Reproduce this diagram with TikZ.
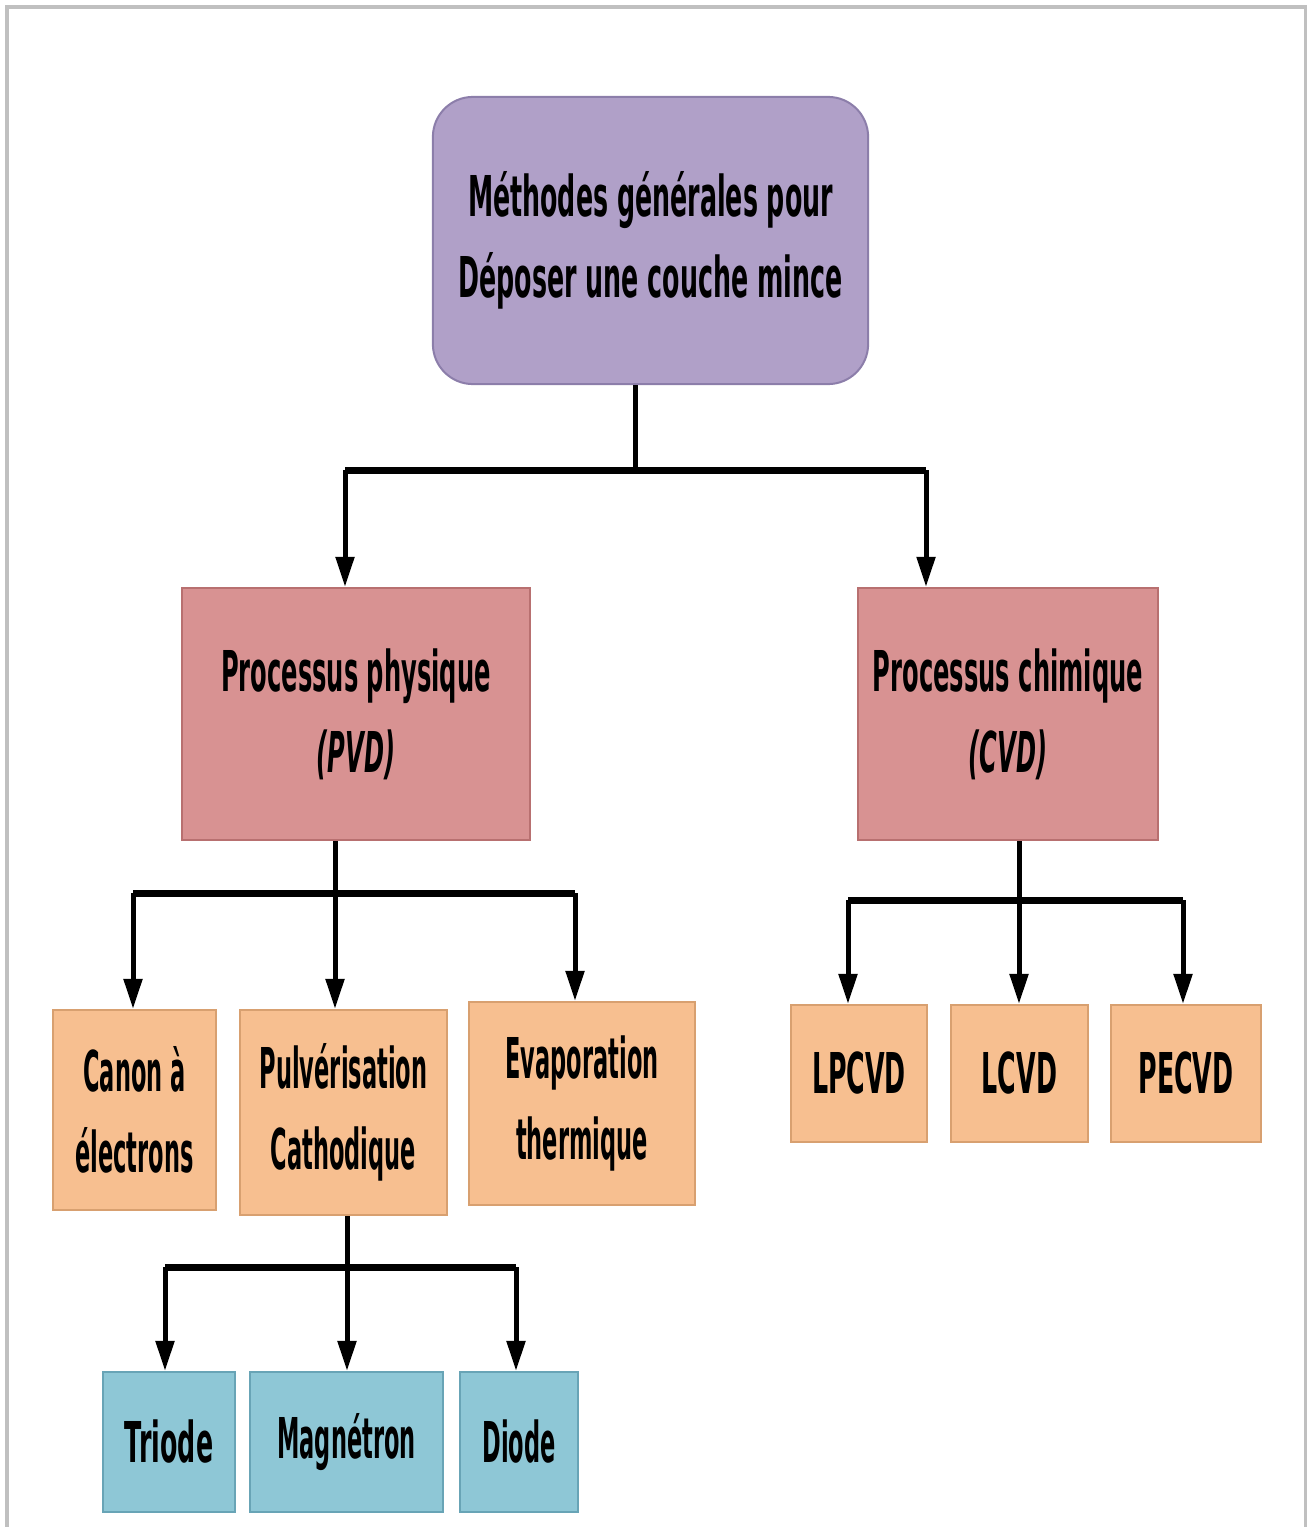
\documentclass[tikz,border=0pt]{standalone}
\usepackage{fontspec}
\newfontfamily\boxfont[FakeStretch=0.45]{DejaVu Sans}
\newfontfamily\procfont[FakeStretch=0.43]{DejaVu Sans}
\newfontfamily\slimfont[FakeStretch=0.40]{DejaVu Sans}
\usetikzlibrary{arrows.meta}

\definecolor{topfill}{RGB}{176,160,200}
\definecolor{topline}{RGB}{140,126,170}
\definecolor{physfill}{RGB}{216,146,146}
\definecolor{physline}{RGB}{184,112,112}
\definecolor{techfill}{RGB}{247,191,144}
\definecolor{techline}{RGB}{216,160,112}
\definecolor{subfill}{RGB}{142,199,214}
\definecolor{subline}{RGB}{104,164,182}
\definecolor{framegray}{RGB}{192,192,192}

\tikzset{
  box/.style={draw, line width=0.02cm, align=center, inner sep=0pt,
    font=\boxfont\bfseries\fontsize{16}{23}\selectfont},
  slim/.style={font=\slimfont\bfseries\fontsize{16}{23}\selectfont},
  topbox/.style={box, fill=topfill, draw=topline, rounded corners=0.4cm},
  procbox/.style={box, fill=physfill, draw=physline, minimum height=2.52cm,
    font=\procfont\bfseries\fontsize{16}{23}\selectfont},
  techbox/.style={box, fill=techfill, draw=techline},
  subbox/.style={box, fill=subfill, draw=subline, minimum height=1.40cm},
  wire/.style={line width=0.05cm},
  bar/.style={line width=0.07cm},
  arr/.style={line width=0.05cm, -{Triangle[width=0.18cm,length=0.30cm]}}
}

\begin{document}
\begin{tikzpicture}[x=0.01cm,y=-0.01cm]

  \useasboundingbox (0,0) rectangle (1311,1527);
  \draw[framegray, line width=0.03cm] (7,1527) -- (7,7) -- (1305,7) -- (1305,1527);

  % boxes
  \node (top) at (650.5,240.5) [topbox, minimum width=4.35cm, minimum height=2.87cm]
    {Méthodes générales pour\\Déposer une couche mince};

  \node (pvd) at (356,714) [procbox, minimum width=3.48cm]
    {Processus physique\\\itshape(PVD)};
  \node (cvd) at (1008,714) [procbox, minimum width=3.00cm]
    {Processus chimique\\\itshape(CVD)};

  \node (canon) at (134.5,1110) [techbox, slim, minimum width=1.63cm, minimum height=2.00cm]
    {Canon à\\électrons};
  \node (pulv) at (343.5,1112.5) [techbox, slim, minimum width=2.07cm, minimum height=2.05cm]
    {Pulvérisation\\Cathodique};
  \node (evap) at (582,1103.5) [techbox, slim, minimum width=2.26cm, minimum height=2.03cm]
    {Evaporation\\thermique};

  \node (lpcvd) at (859,1073.5) [techbox, minimum width=1.36cm, minimum height=1.37cm] {LPCVD};
  \node (lcvd) at (1019.5,1073.5) [techbox, minimum width=1.37cm, minimum height=1.37cm] {LCVD};
  \node (pecvd) at (1186,1073.5) [techbox, minimum width=1.50cm, minimum height=1.37cm] {PECVD};

  \node (triode) at (169,1442) [subbox, minimum width=1.32cm] {Triode};
  \node (magn) at (346.5,1442) [subbox, slim, minimum width=1.93cm] {Magnétron};
  \node (diode) at (519,1442) [subbox, slim, minimum width=1.18cm] {Diode};

  % top level
  \coordinate (j0) at (635,470);
  \coordinate (b0l) at (345,470);
  \coordinate (b0r) at (926,470);
  \draw[wire] (top.south -| j0) -- (j0);
  \draw[bar] (b0l) -- (b0r);
  \draw[arr] (b0l) -- (b0l |- pvd.north);
  \draw[arr] (b0r) -- (b0r |- cvd.north);

  % physical branch
  \coordinate (j1) at (335,893);
  \coordinate (b1l) at (133,893);
  \coordinate (b1r) at (575,893);
  \draw[wire] (pvd.south -| j1) -- (j1);
  \draw[bar] (b1l) -- (b1r);
  \draw[arr] (b1l) -- (b1l |- canon.north);
  \draw[arr] (j1) -- (j1 |- pulv.north);
  \draw[arr] (b1r) -- (b1r |- evap.north);

  % chemical branch
  \coordinate (j2) at (1019,900);
  \coordinate (b2l) at (848,900);
  \coordinate (b2r) at (1183,900);
  \draw[wire] (cvd.south -| j2) -- (j2);
  \draw[bar] (b2l) -- (b2r);
  \draw[arr] (b2l) -- (b2l |- lpcvd.north);
  \draw[arr] (j2) -- (j2 |- lcvd.north);
  \draw[arr] (b2r) -- (b2r |- pecvd.north);

  % sputtering branch
  \coordinate (j3) at (347,1267);
  \coordinate (b3l) at (165,1267);
  \coordinate (b3r) at (516,1267);
  \draw[wire] (pulv.south -| j3) -- (j3);
  \draw[bar] (b3l) -- (b3r);
  \draw[arr] (b3l) -- (b3l |- triode.north);
  \draw[arr] (j3) -- (j3 |- magn.north);
  \draw[arr] (b3r) -- (b3r |- diode.north);

\end{tikzpicture}
\end{document}
